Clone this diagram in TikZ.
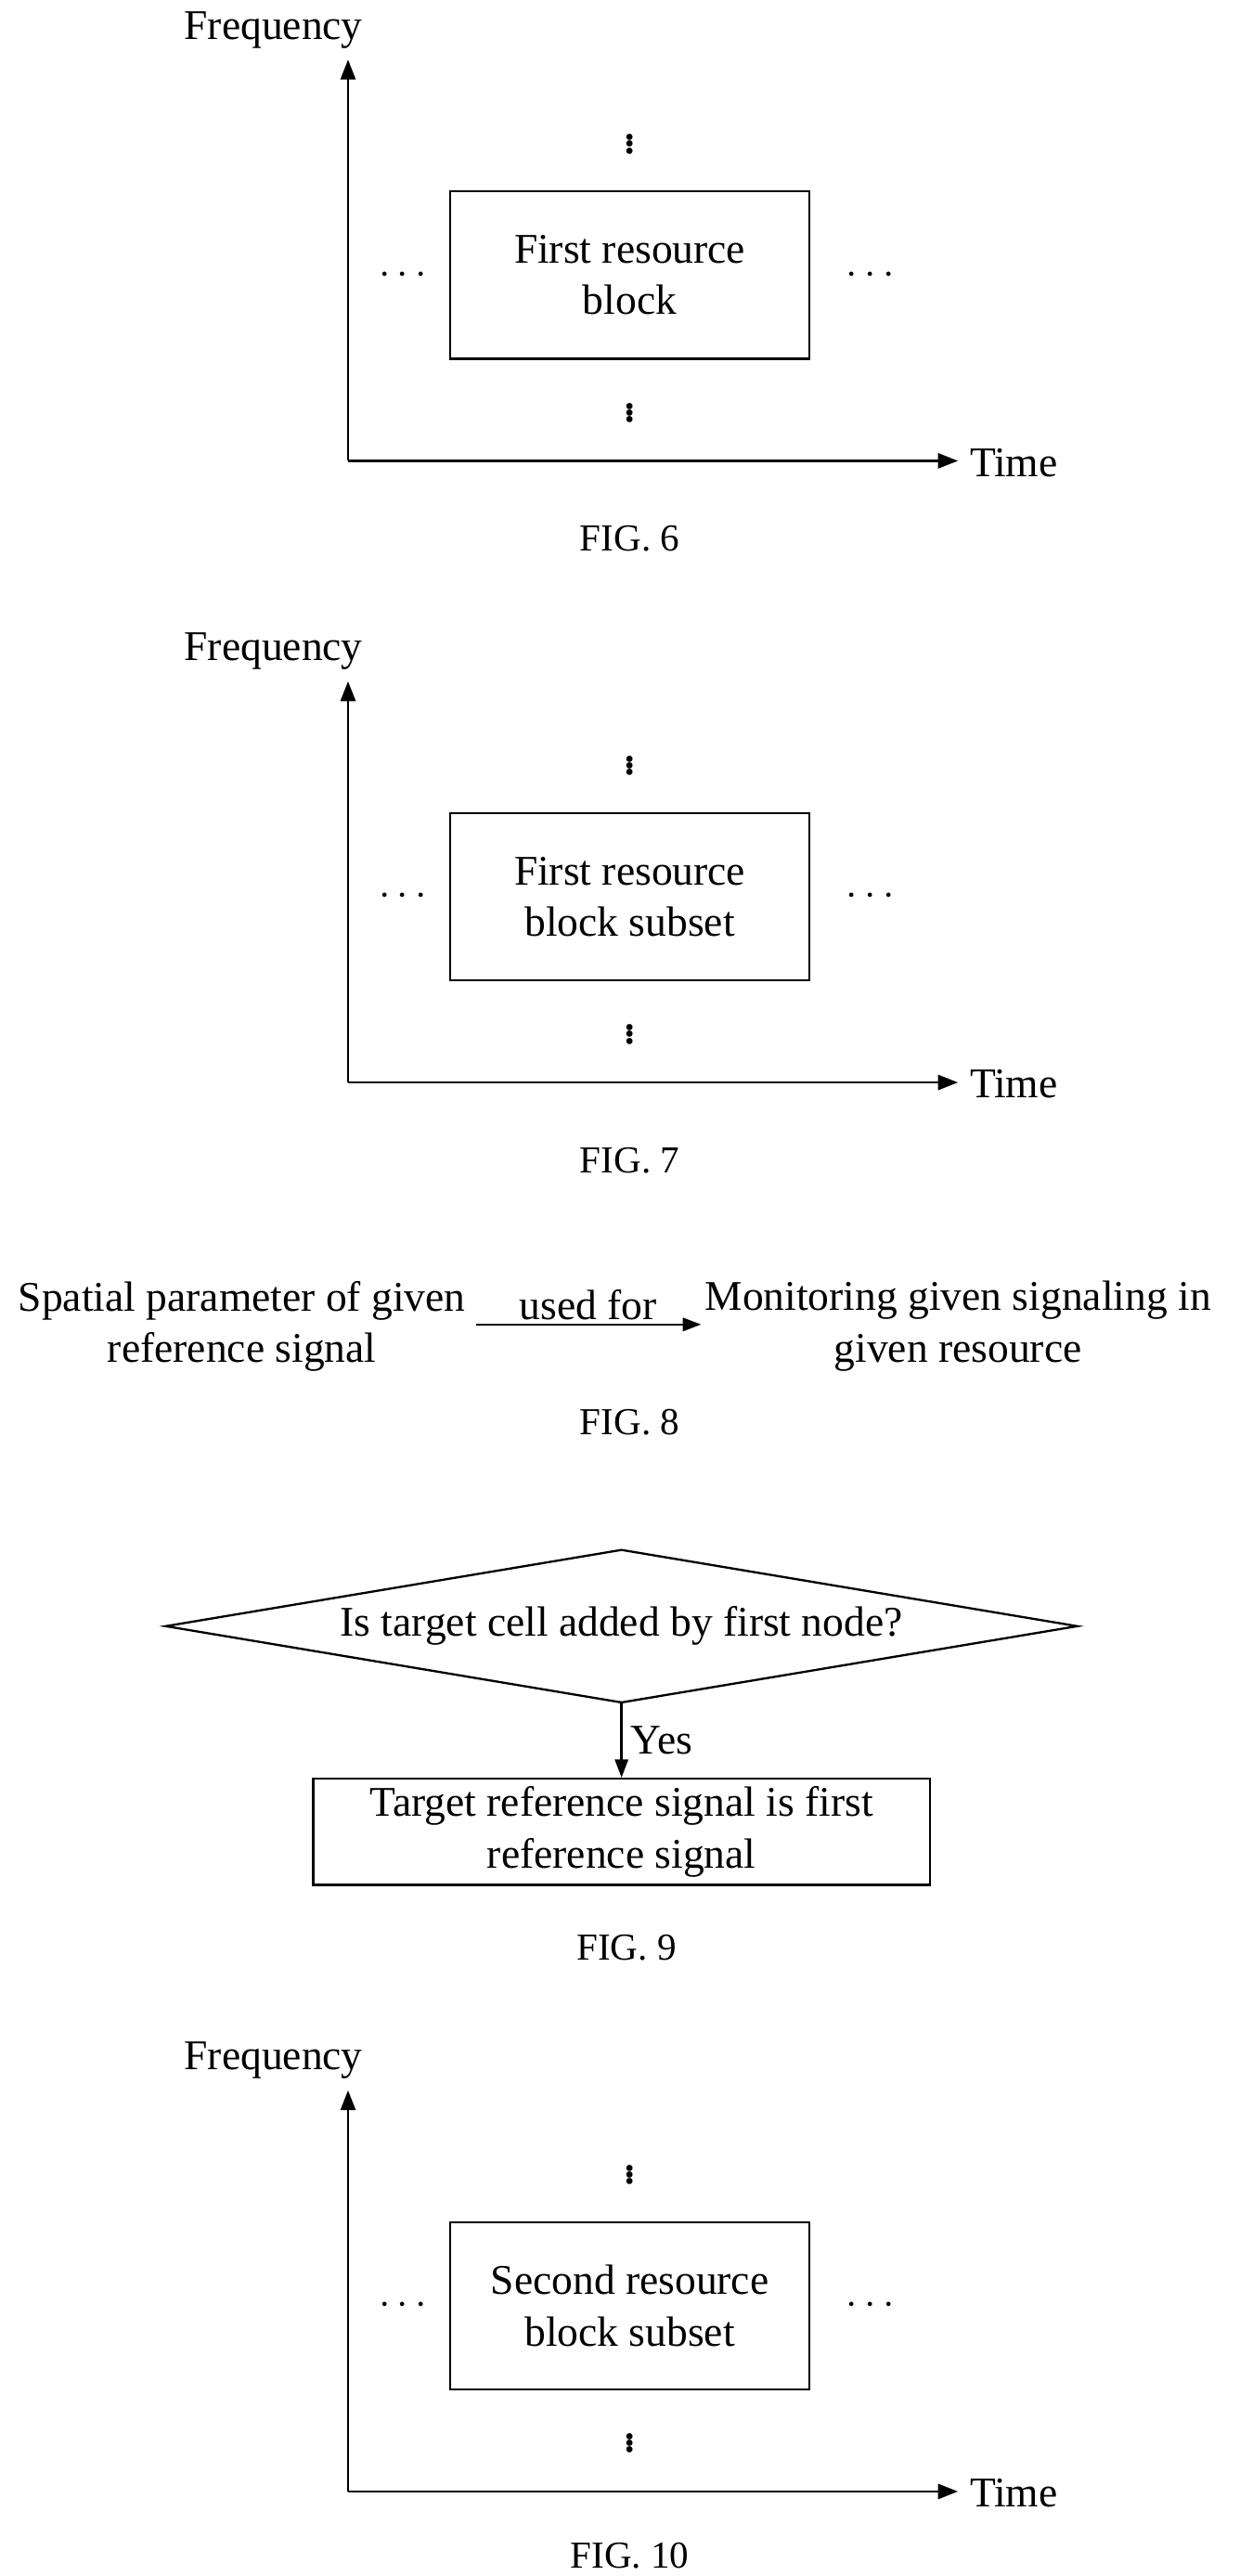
\documentclass[tikz,border=0pt]{standalone}
\usepackage{fontspec}
\setmainfont{Liberation Serif}
\usetikzlibrary{arrows.meta}
\begin{document}
\begin{tikzpicture}[x=1pt,y=-1pt,
  txt/.style={font=\fontsize{25.5}{31}\selectfont,align=center,inner sep=1pt},
  dts/.style={font=\fontsize{32}{36}\selectfont,inner sep=0pt},
  fig/.style={font=\fontsize{23}{27}\selectfont},
  box/.style={draw,line width=1.3pt,txt},
  ax/.style={line width=1.5pt,-{Triangle[length=12pt,width=9pt]}},
  ln/.style={line width=1.3pt}]
\useasboundingbox (0,0) rectangle (748,1554);
\foreach \oy/\lab/\nm/\fg/\fy in {0/{First resource\\block}/a/6/325, 375/{First resource\\block subset}/b/7/325, 1225/{Second resource\\block subset}/c/10/317}{
  \coordinate (o\nm) at (210,278+\oy);
  \coordinate (y\nm) at (210,36+\oy);
  \coordinate (x\nm) at (578,278+\oy);
  \draw[ax] (o\nm) -- (y\nm);
  \draw[ax] (o\nm) -- (x\nm);
  \node[txt] (f\nm) at (165,18+\oy) {Frequency};
  \node[txt,anchor=west] (t\nm) at (584,279+\oy) {Time};
  \node[box,minimum width=217pt,minimum height=101pt] (r\nm) at (380,166+\oy) {\lab};
  \node[dts] (vu\nm) at (380,84+\oy) {$\vdots$};
  \node[dts] (vd\nm) at (380,246+\oy) {$\vdots$};
  \node[dts] (hl\nm) at (243,166+\oy) {$\cdots$};
  \node[dts] (hr\nm) at (525,166+\oy) {$\cdots$};
  \node[fig] (F\nm) at (380,\fy+\oy) {FIG. \fg};
}
\node[txt] (sp) at (146,800) {Spatial parameter of given\\reference signal};
\node[txt] (mo) at (578,800) {Monitoring given signaling in\\given resource};
\draw[ln,-{Triangle[length=11pt,width=8pt]}] (287,799) -- node[txt,above,inner sep=2pt] {used for} (423,799);
\node[fig] (F8) at (380,858) {FIG. 8};
\coordinate (dl) at (100,981); \coordinate (dt) at (375,935);
\coordinate (dr) at (650,981); \coordinate (db) at (375,1027);
\draw[ln] (dl) -- (dt) -- (dr) -- (db) -- cycle;
\node[txt] (dq) at (375,981) {Is target cell added by first node?};
\node[box,minimum width=372pt,minimum height=64pt] (tr) at (375,1105) {Target reference signal is first\\reference signal};
\draw[ln,-{Triangle[length=11pt,width=8pt]}] (db) -- (tr.north) node[txt,midway,right=4pt] {Yes};
\node[fig] (F9) at (378,1175) {FIG. 9};
\end{tikzpicture}
\end{document}
